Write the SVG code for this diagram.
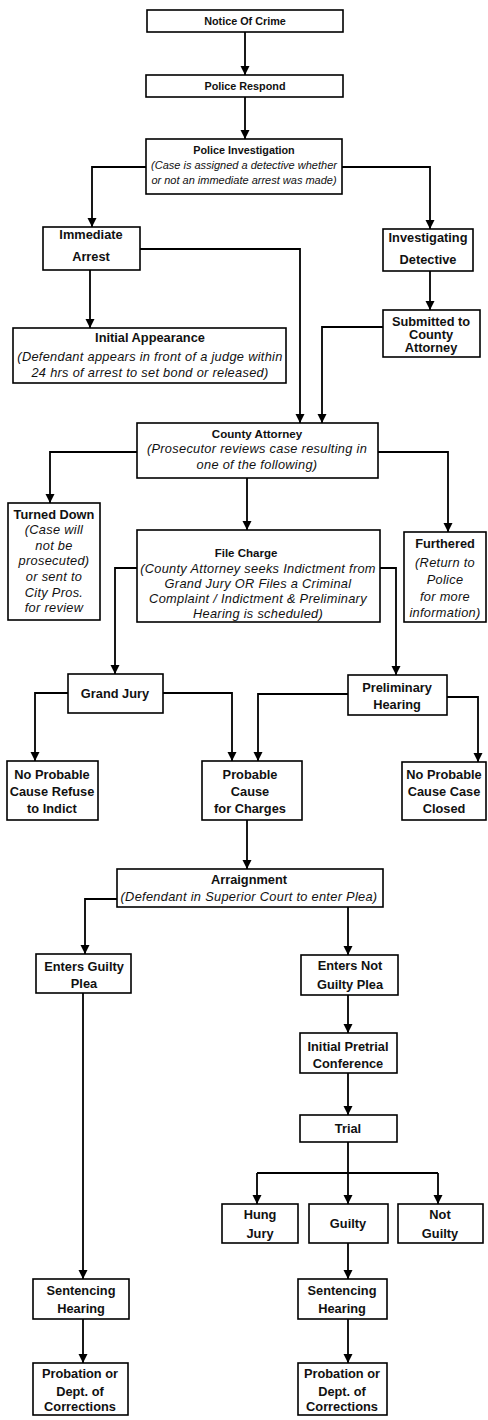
<svg xmlns="http://www.w3.org/2000/svg" width="488" height="1420" viewBox="0 0 488 1420">
<style>
.b{fill:#fff;stroke:#000;stroke-width:1.6}
.t{font-family:"Liberation Sans",Arial,sans-serif;font-size:12.8px;font-weight:bold;text-anchor:middle;fill:#111}
.ts{font-family:"Liberation Sans",Arial,sans-serif;font-size:10.8px;font-weight:bold;text-anchor:middle;fill:#111}
.i{font-family:"Liberation Sans",Arial,sans-serif;font-size:12.8px;font-style:italic;letter-spacing:0.3px;text-anchor:middle;fill:#111}
.is{font-family:"Liberation Sans",Arial,sans-serif;font-size:11px;font-style:italic;text-anchor:middle;fill:#111}
.c{fill:none;stroke:#000;stroke-width:1.8}
.a{marker-end:url(#ah)}
</style>
<defs>
<marker id="ah" markerUnits="userSpaceOnUse" markerWidth="9" markerHeight="11" refX="10" refY="5" orient="auto" viewBox="0 0 10 10">
<path d="M0,0 L10,5 L0,10 z" fill="#000"/>
</marker>
</defs>
<rect width="488" height="1420" fill="#fff"/>
<g id="connectors">
<path class="c a" d="M245,32 V75"/>
<path class="c a" d="M245,97 V139"/>
<path class="c a" d="M146,167 H92 V227"/>
<path class="c a" d="M342,167 H430 V229"/>
<path class="c a" d="M90,270 V328"/>
<path class="c a" d="M140,249 H300 V423"/>
<path class="c a" d="M430,271 V310"/>
<path class="c a" d="M383,327 H322 V423"/>
<path class="c a" d="M137,452 H50 V503"/>
<path class="c a" d="M247,478 V530"/>
<path class="c a" d="M378,452 H448 V532"/>
<path class="c a" d="M137,568 H115 V674"/>
<path class="c a" d="M380,568 H396 V675"/>
<path class="c a" d="M68,693 H35 V761"/>
<path class="c a" d="M163,693 H232 V761"/>
<path class="c a" d="M348,694 H258 V761"/>
<path class="c a" d="M447,697 H478 V762"/>
<path class="c a" d="M247,820 V869"/>
<path class="c a" d="M117,899 H85 V954"/>
<path class="c a" d="M348,907 V955"/>
<path class="c a" d="M348,995 V1033"/>
<path class="c a" d="M348,1073 V1115"/>
<path class="c" d="M348,1142 V1173 M257,1173 H438"/>
<path class="c a" d="M257,1173 V1204"/>
<path class="c a" d="M348,1173 V1204"/>
<path class="c a" d="M438,1173 V1204"/>
<path class="c a" d="M348,1243 V1279"/>
<path class="c a" d="M348,1319 V1363"/>
<path class="c a" d="M83,993 V1279"/>
<path class="c a" d="M83,1319 V1363"/>
</g>
<g id="notice"><rect class="b" x="147" y="10" width="196" height="22"/><text class="ts" x="245" y="25">Notice Of Crime</text></g>
<g id="respond"><rect class="b" x="146" y="75" width="197" height="22"/><text class="ts" x="245" y="90">Police Respond</text></g>
<g id="investigation"><rect class="b" x="146" y="139" width="196" height="55"/><text class="ts" x="244" y="154">Police Investigation</text><text class="is" x="244" y="169">(Case is assigned a detective whether</text><text class="is" x="244" y="184">or not an immediate arrest was made)</text></g>
<g id="arrest"><rect class="b" x="43" y="227" width="97" height="43"/><text class="t" x="91" y="239">Immediate</text><text class="t" x="91" y="261">Arrest</text></g>
<g id="detective"><rect class="b" x="383" y="229" width="90" height="42"/><text class="t" x="428" y="242">Investigating</text><text class="t" x="428" y="264">Detective</text></g>
<g id="initial"><rect class="b" x="13" y="328" width="273" height="55"/><text class="t" x="150" y="342">Initial Appearance</text><text class="i" x="150" y="361">(Defendant appears in front of a judge within</text><text class="i" x="150" y="377">24 hrs of arrest to set bond or released)</text></g>
<g id="submitted"><rect class="b" x="383" y="310" width="97" height="47"/><text class="t" x="431" y="326">Submitted to</text><text class="t" x="431" y="339">County</text><text class="t" x="431" y="352">Attorney</text></g>
<g id="county"><rect class="b" x="137" y="423" width="241" height="55"/><text class="t" x="257" y="438" style="font-size:11.6px">County Attorney</text><text class="i" x="257" y="453">(Prosecutor reviews case resulting in</text><text class="i" x="257" y="469">one of the following)</text></g>
<g id="turned"><rect class="b" x="8" y="503" width="92" height="117"/><text class="t" x="54" y="519">Turned Down</text><text class="i" x="54" y="534">(Case will</text><text class="i" x="54" y="550">not be</text><text class="i" x="54" y="565">prosecuted)</text><text class="i" x="54" y="581">or sent to</text><text class="i" x="54" y="597">City Pros.</text><text class="i" x="54" y="612">for review</text></g>
<g id="file"><rect class="b" x="137" y="530" width="243" height="92"/><text class="ts" x="246" y="557" style="font-size:11.5px">File Charge</text><text class="i" x="258" y="573">(County Attorney seeks Indictment from</text><text class="i" x="258" y="588">Grand Jury OR  Files a Criminal</text><text class="i" x="258" y="603">Complaint / Indictment &amp; Preliminary</text><text class="i" x="258" y="618">Hearing is scheduled)</text></g>
<g id="furthered"><rect class="b" x="404" y="532" width="82" height="90"/><text class="t" x="445" y="548">Furthered</text><text class="i" x="445" y="567">(Return to</text><text class="i" x="445" y="584">Police</text><text class="i" x="445" y="601">for more</text><text class="i" x="445" y="617">information)</text></g>
<g id="grand"><rect class="b" x="68" y="674" width="95" height="39"/><text class="t" x="115" y="698">Grand Jury</text></g>
<g id="preliminary"><rect class="b" x="348" y="675" width="99" height="40"/><text class="t" x="397" y="692">Preliminary</text><text class="t" x="397" y="709">Hearing</text></g>
<g id="refuse"><rect class="b" x="7" y="761" width="91" height="59"/><text class="t" x="52" y="779">No Probable</text><text class="t" x="52" y="796">Cause Refuse</text><text class="t" x="52" y="813">to Indict</text></g>
<g id="probable"><rect class="b" x="202" y="761" width="100" height="59"/><text class="t" x="250" y="779">Probable</text><text class="t" x="250" y="796">Cause</text><text class="t" x="250" y="813">for Charges</text></g>
<g id="closed"><rect class="b" x="402" y="762" width="84" height="58"/><text class="t" x="444" y="779">No Probable</text><text class="t" x="444" y="796">Cause Case</text><text class="t" x="444" y="813">Closed</text></g>
<g id="arraignment"><rect class="b" x="117" y="869" width="266" height="38"/><text class="t" x="249" y="884">Arraignment</text><text class="i" x="249" y="901">(Defendant in Superior Court to enter Plea)</text></g>
<g id="guiltyplea"><rect class="b" x="36" y="954" width="95" height="39"/><text class="t" x="84" y="971">Enters Guilty</text><text class="t" x="84" y="988">Plea</text></g>
<g id="notguiltyplea"><rect class="b" x="301" y="955" width="97" height="40"/><text class="t" x="350" y="970">Enters Not</text><text class="t" x="350" y="989">Guilty Plea</text></g>
<g id="pretrial"><rect class="b" x="300" y="1033" width="97" height="40"/><text class="t" x="348" y="1051">Initial Pretrial</text><text class="t" x="348" y="1068">Conference</text></g>
<g id="trial"><rect class="b" x="300" y="1115" width="97" height="27"/><text class="t" x="348" y="1133">Trial</text></g>
<g id="hung"><rect class="b" x="222" y="1204" width="76" height="39"/><text class="t" x="260" y="1219">Hung</text><text class="t" x="260" y="1238">Jury</text></g>
<g id="guilty"><rect class="b" x="309" y="1204" width="79" height="39"/><text class="t" x="348" y="1228">Guilty</text></g>
<g id="notguilty"><rect class="b" x="398" y="1204" width="85" height="39"/><text class="t" x="440" y="1219">Not</text><text class="t" x="440" y="1238">Guilty</text></g>
<g id="sentencing1"><rect class="b" x="33" y="1279" width="96" height="40"/><text class="t" x="81" y="1295">Sentencing</text><text class="t" x="81" y="1313">Hearing</text></g>
<g id="sentencing2"><rect class="b" x="298" y="1279" width="89" height="40"/><text class="t" x="342" y="1295">Sentencing</text><text class="t" x="342" y="1313">Hearing</text></g>
<g id="probation1"><rect class="b" x="33" y="1363" width="95" height="52"/><text class="t" x="80" y="1378">Probation or</text><text class="t" x="80" y="1396">Dept. of</text><text class="t" x="80" y="1411">Corrections</text></g>
<g id="probation2"><rect class="b" x="298" y="1363" width="89" height="52"/><text class="t" x="342" y="1378">Probation or</text><text class="t" x="342" y="1396">Dept. of</text><text class="t" x="342" y="1411">Corrections</text></g>
</svg>
